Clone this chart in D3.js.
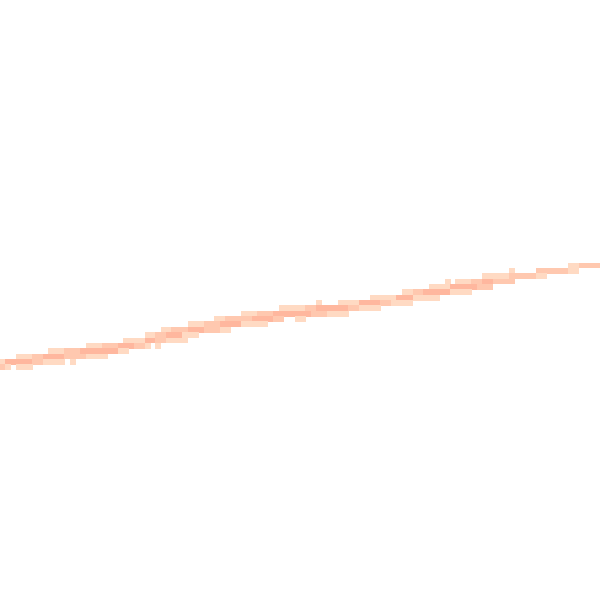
<!DOCTYPE html>
<html>
<head>
<meta charset="utf-8">
<script src="https://d3js.org/d3.v7.min.js"></script>
<style>
  body { margin: 0; background: #fff; }
</style>
</head>
<body>
<script type="text/javascript">
 var runStart = [16,19, 9,12,15, 3,6,8,12,16, 0,1,6,8,13, 0,1,3,
                 40,42, 35,38,41, 30,32,35,38,41, 27,29,31,34, 23,27,29,31, 22,25,27,29, 22,
                 59,63, 52,53,57,59,65, 45,48,51,58,61, 45,47,51,55, 45,
                 83,85,88, 80,84,89, 75,77,79,84, 69,74,77, 67,71,73, 67,
                 106,108, 95,100,106, 90,95,100, 90,92, 90];
 var runEnd   = [19,22, 12,15,22, 6,8,12,16,20, 1,6,8,12,14, 1,2,6,
                 42,45, 38,41,45, 32,35,38,41,43, 29,31,34,37, 27,29,31,35, 25,27,28,30, 24,
                 60,67, 53,57,59,65,67, 48,51,58,61,65, 47,51,53,57, 50,
                 84,88,90, 84,89,90, 77,79,84,88, 74,77,82, 71,73,77, 71,
                 108,112, 96,106,108, 95,100,102, 92,96, 92];
 var runRow   = [64,64, 65,65,65, 66,66,66,66,66, 67,67,67,67,67, 68,68,68,
                 59,59, 60,60,60, 61,61,61,61,61, 62,62,62,62, 63,63,63,63, 64,64,64,64, 65,
                 56,56, 57,57,57,57,57, 58,58,58,58,58, 59,59,59,59, 60,
                 52,52,52, 53,53,53, 54,54,54,54, 55,55,55, 56,56,56, 57,
                 49,49, 50,50,50, 51,51,51, 52,52, 53];
 var runLevel = [1,2, 1,2,3, 1,2,3,2,1, 1,3,2,1,1, 2,1,1,
                 1,2, 1,2,3, 1,2,3,2,1, 1,2,3,1, 1,3,2,1, 3,2,1,1, 1,
                 1,1, 1,1,2,3,2, 1,2,3,2,1, 2,3,2,1, 1,
                 1,1,2, 1,3,2, 1,2,3,1, 1,3,1, 3,2,1, 1,
                 1,2, 1,2,1, 1,2,1, 3,2, 2];
 var levels = [1, 2, 3];
 var levelColors = ["#ffdac3", "#ffc8af", "#ffb79e"];

 var w = 600, h = 600, nBins = 112;

 var x = d3.scaleBand().domain(d3.range(nBins)).range([0, w]).padding(0);
 var y = d3.scaleBand().domain(d3.range(nBins)).range([0, h]).padding(0);
 var color = d3.scaleOrdinal().domain(levels).range(levelColors);

 // expand runs into single cells
 var cells = [];
 runStart.forEach(function(s, i) {
   for (var c = s; c < runEnd[i]; c++) {
     cells.push({col: c, row: runRow[i], level: runLevel[i]});
   }
 });

 var svg = d3.select("body").append("svg")
    .attr("width", w)
    .attr("height", h);

 svg.append("g")
    .attr("class", "cells")
    .selectAll("rect")
    .data(cells)
    .enter()
    .append("rect")
    .attr("x", function(d) { return x(d.col); })
    .attr("y", function(d) { return y(d.row); })
    .attr("width", x.bandwidth() + 0.5)
    .attr("height", y.bandwidth() + 0.5)
    .attr("fill", function(d) { return color(d.level); })
    .attr("shape-rendering", "crispEdges");
</script>
</body>
</html>
